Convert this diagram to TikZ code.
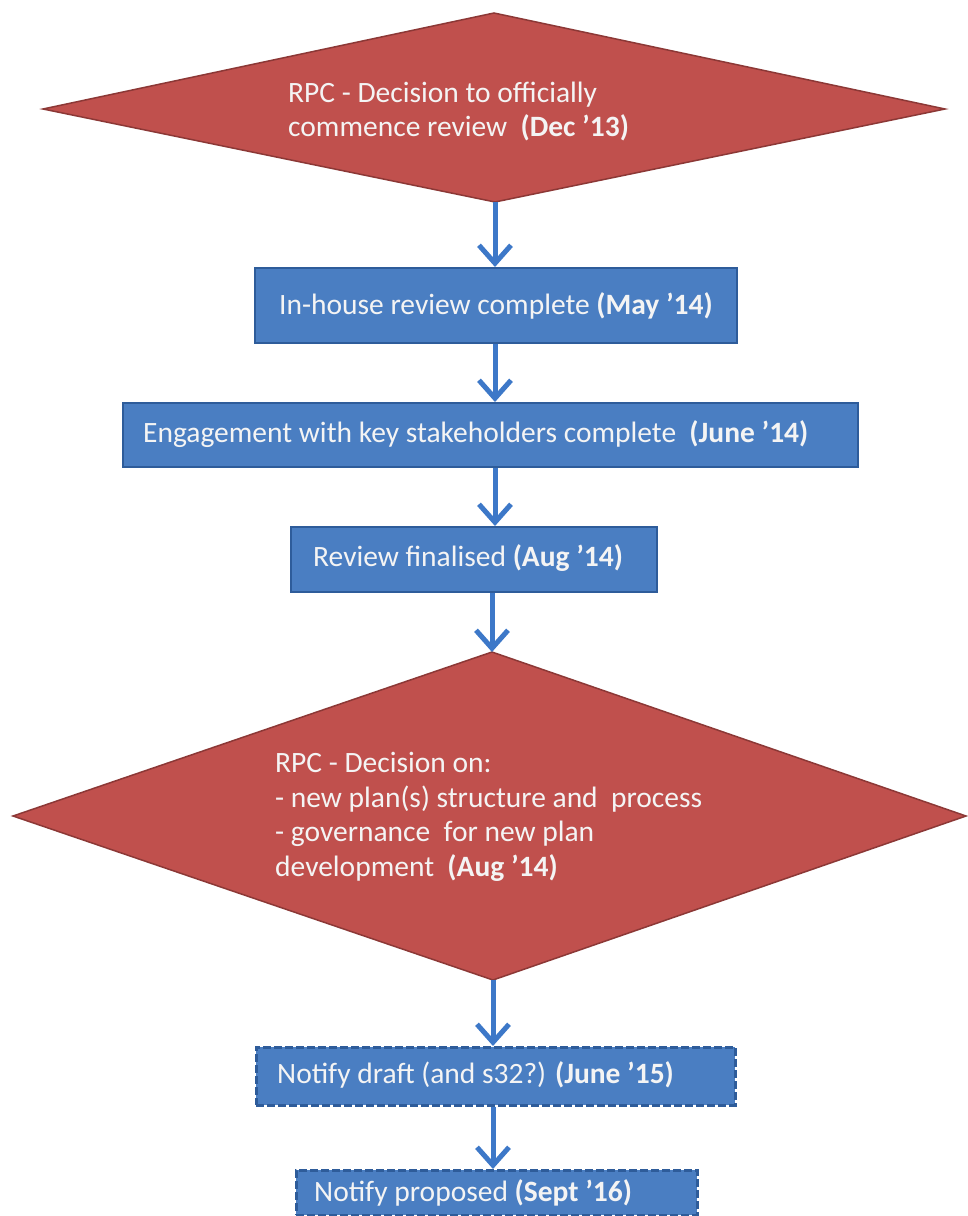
\documentclass[tikz,border=0pt]{standalone}
\usepackage{fontspec}
\setmainfont{Carlito}
\usetikzlibrary{arrows.meta}
\definecolor{redfill}{HTML}{C0504D}
\definecolor{redline}{HTML}{8C3836}
\definecolor{bluefill}{HTML}{4A7EC2}
\definecolor{blueline}{HTML}{2E5C9A}
\definecolor{arrowblue}{HTML}{3D78C8}
\definecolor{txt}{HTML}{F4F4F4}
\begin{document}
\begin{tikzpicture}[x=1pt,y=-1pt,
  box/.style={draw=blueline, line width=2pt, fill=bluefill, inner sep=0pt, anchor=north west},
  dbox/.style={box, line width=2.5pt, dash pattern=on 8pt off 3pt},
  dia/.style={draw=redline, line width=1.5pt, fill=redfill, line join=miter},
  lbl/.style={text=txt, font=\fontsize{29.5}{34}\selectfont, inner sep=0pt, align=left},
  conn/.style={draw=arrowblue, line width=5pt, -{Straight Barb[length=18pt, width=32pt, line width=5pt]}}]
\useasboundingbox (0,0) rectangle (967,1216);
\fill[white] (0,0) rectangle (967,1216);
% diamond 1
\coordinate (d1t) at (494,13);
\coordinate (d1l) at (43,109);
\coordinate (d1r) at (945,109);
\coordinate (d1b) at (495,202);
\draw[dia] (d1t) -- (d1r) -- (d1b) -- (d1l) -- cycle;
\node[lbl, anchor=west] (t1) at (288,111.5) {RPC - Decision to officially\\commence review\ \ \textbf{(Dec '13)}};
% boxes
\node[box, minimum width=482pt, minimum height=75pt] (b1) at (254,267) {};
\node[lbl] (t2) at (b1.center) {In-house review complete \textbf{(May '14)}};
\node[box, minimum width=735pt, minimum height=64pt] (b2) at (122,402) {};
\node[lbl, anchor=west] (t3) at (143,434) {Engagement with key stakeholders complete\ \ \textbf{(June '14)}};
\node[box, minimum width=366pt, minimum height=65pt] (b3) at (290,526) {};
\node[lbl, anchor=west] (t4) at (313,558.5) {Review finalised \textbf{(Aug '14)}};
% diamond 2
\coordinate (d2t) at (492,652);
\coordinate (d2l) at (13,816);
\coordinate (d2r) at (966,816);
\coordinate (d2b) at (493,980);
\draw[dia] (d2t) -- (d2r) -- (d2b) -- (d2l) -- cycle;
\node[lbl, anchor=west, font=\fontsize{29.5}{34.5}\selectfont] (t5) at (275,817) {RPC - Decision on:\\- new plan(s) structure and\ \ process\\- governance\ \ for new plan\\development\ \ \textbf{(Aug '14)}};
% dashed boxes
\node[dbox, minimum width=479pt, minimum height=58pt] (b4) at (255,1046) {};
\node[lbl, anchor=west] (t6) at (277,1075) {Notify draft (and s32?) \textbf{(June '15)}};
\node[dbox, minimum width=401pt, minimum height=45pt] (b5) at (295,1169) {};
\node[lbl, anchor=west] (t7) at (314,1193) {Notify proposed \textbf{(Sept '16)}};
% connectors
\draw[conn] (d1b) -- (d1b |- b1.north);
\draw[conn] (b1.south -| d1b) -- (d1b |- b2.north);
\draw[conn] (b2.south -| d1b) -- (d1b |- b3.north);
\draw[conn] (b3.south -| d2t) -- (d2t);
\draw[conn] (d2b) -- (d2b |- b4.north);
\draw[conn] (b4.south -| d2b) -- (d2b |- b5.north);
\end{tikzpicture}
\end{document}
